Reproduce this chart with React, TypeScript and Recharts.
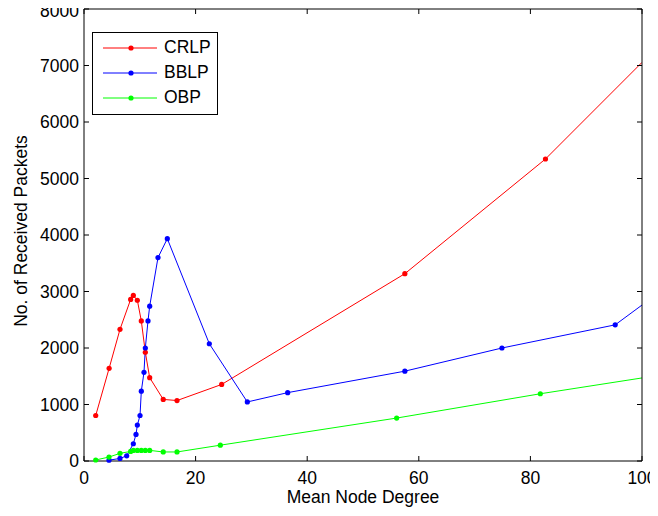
import React from 'react';
import { LineChart, Line, XAxis, YAxis, Legend } from 'recharts';

// mean node degree / received packets
const crlpDegree = [2.1, 4.5, 6.45, 8.36, 8.84, 9.56, 10.27, 10.99, 11.77, 14.2, 16.67, 24.67, 57.5, 82.7, 100];
const crlpPackets = [805, 1640, 2330, 2860, 2930, 2845, 2480, 1925, 1475, 1090, 1070, 1355, 3315, 5345, 7055];

const bblpDegree = [4.48, 6.45, 7.65, 8.84, 9.32, 9.56, 10.04, 10.27, 10.75, 10.99, 11.47, 11.77, 13.26, 14.93, 22.46, 29.27, 36.5, 57.5, 74.9, 95.2, 100];
const bblpPackets = [15, 45, 92, 305, 470, 635, 805, 1235, 1570, 2000, 2480, 2740, 3600, 3935, 2075, 1045, 1210, 1590, 2000, 2410, 2760];

const obpDegree = [2.1, 4.48, 6.45, 8.36, 8.84, 9.56, 10.27, 10.99, 11.77, 14.2, 16.67, 24.43, 56.03, 81.78, 100];
const obpPackets = [18, 70, 135, 170, 188, 188, 188, 188, 188, 160, 160, 280, 760, 1190, 1470];

const xTicks = [0, 20, 40, 60, 80, 100];
const yTicks = [0, 1000, 2000, 3000, 4000, 5000, 6000, 7000, 8000];

const FONT = '"Liberation Sans", Arial, Helvetica, sans-serif';
const FS = 17.5;

const toPoints = (xs: number[], ys: number[]) => xs.map((x, i) => ({ x, y: ys[i] }));

// OBP sits on the top/right axes (same domains) so the box axes get drawn
const series = [
    { name: 'CRLP', color: '#ff0000', data: toPoints(crlpDegree, crlpPackets), xId: 'b', yId: 'l' },
    { name: 'BBLP', color: '#0000ff', data: toPoints(bblpDegree, bblpPackets), xId: 'b', yId: 'l' },
    { name: 'OBP', color: '#00ff00', data: toPoints(obpDegree, obpPackets), xId: 't', yId: 'r' },
];

// markers past the right edge are clipped in the original
const makeDot = (color: string) => (props: any) => {
    const { cx, cy, payload, index } = props;
    if (payload.x >= 100) return <g key={`e-${index}`} />;
    return <circle key={`d-${index}`} cx={cx} cy={cy} r={2.6} fill={color} stroke="none" />;
};

const renderLegend = () => (
    <div style={{
        width: 124, height: 79, border: '1px solid #000', background: '#fff',
        fontFamily: FONT, fontSize: FS, color: '#000', paddingTop: 2, boxSizing: 'content-box',
    }}>
        {series.map((s) => (
            <div key={s.name} style={{ display: 'flex', alignItems: 'center', height: 25 }}>
                <svg width={54} height={10} style={{ marginLeft: 10, display: 'block' }}>
                    <line x1={0} y1={5} x2={54} y2={5} stroke={s.color} strokeWidth={1} />
                    <circle cx={28} cy={5} r={2.6} fill={s.color} />
                </svg>
                <span style={{ marginLeft: 7, lineHeight: '25px' }}>{s.name}</span>
            </div>
        ))}
    </div>
);

const xLabel = (props: any) => {
    const vb = props.viewBox;
    return (
        <text x={vb.x + vb.width / 2} y={vb.y + 42} textAnchor="middle"
            fill="#000" fontSize={FS} fontFamily={FONT}>
            Mean Node Degree
        </text>
    );
};

const yLabel = (props: any) => {
    const vb = props.viewBox;
    const cx = vb.x + 27;
    const cy = vb.y + vb.height / 2 - 4;
    return (
        <text x={cx} y={cy} transform={`rotate(-90, ${cx}, ${cy})`} textAnchor="middle"
            fill="#000" fontSize={FS} fontFamily={FONT}>
            No. of Received Packets
        </text>
    );
};

const tickStyle = { fill: '#000', fontSize: FS, fontFamily: FONT };
const noLabel = () => <g />;

export default function App() {
    return (
        <div style={{ margin: -8, width: 658, height: 516, background: '#fff' }}>
            <LineChart width={658} height={516} margin={{ top: 8, right: 15, bottom: 0, left: 0 }}>
                <XAxis
                    xAxisId="b" dataKey="x" type="number" domain={[0, 100]} ticks={xTicks}
                    height={55} tickSize={-5} tickMargin={16} tick={tickStyle}
                    axisLine={{ stroke: '#000' }} tickLine={{ stroke: '#000' }}
                    allowDataOverflow
                    label={{ value: 'Mean Node Degree', content: xLabel }}
                />
                <XAxis
                    xAxisId="t" dataKey="x" orientation="top" type="number" domain={[0, 100]} ticks={xTicks}
                    height={1} tickSize={-5} tick={noLabel}
                    axisLine={{ stroke: '#000' }} tickLine={{ stroke: '#000' }}
                    allowDataOverflow
                />
                <YAxis
                    yAxisId="l" type="number" domain={[0, 8000]} ticks={yTicks}
                    width={84} tickSize={-5} tickMargin={10} tick={tickStyle}
                    axisLine={{ stroke: '#000' }} tickLine={{ stroke: '#000' }}
                    label={{ value: 'No. of Received Packets', content: yLabel }}
                />
                <YAxis
                    yAxisId="r" orientation="right" type="number" domain={[0, 8000]} ticks={yTicks}
                    width={1} tickSize={-5} tick={noLabel}
                    axisLine={{ stroke: '#000' }} tickLine={{ stroke: '#000' }}
                />
                <Legend
                    layout="vertical" align="center" verticalAlign="middle"
                    wrapperStyle={{ left: 92, top: 32, width: 126 }}
                    content={renderLegend}
                />
                {series.map((s) => (
                    <Line
                        key={s.name} xAxisId={s.xId} yAxisId={s.yId} data={s.data} dataKey="y" name={s.name}
                        stroke={s.color} strokeWidth={1} dot={makeDot(s.color)} activeDot={false}
                        isAnimationActive={false}
                    />
                ))}
            </LineChart>
        </div>
    );
}
